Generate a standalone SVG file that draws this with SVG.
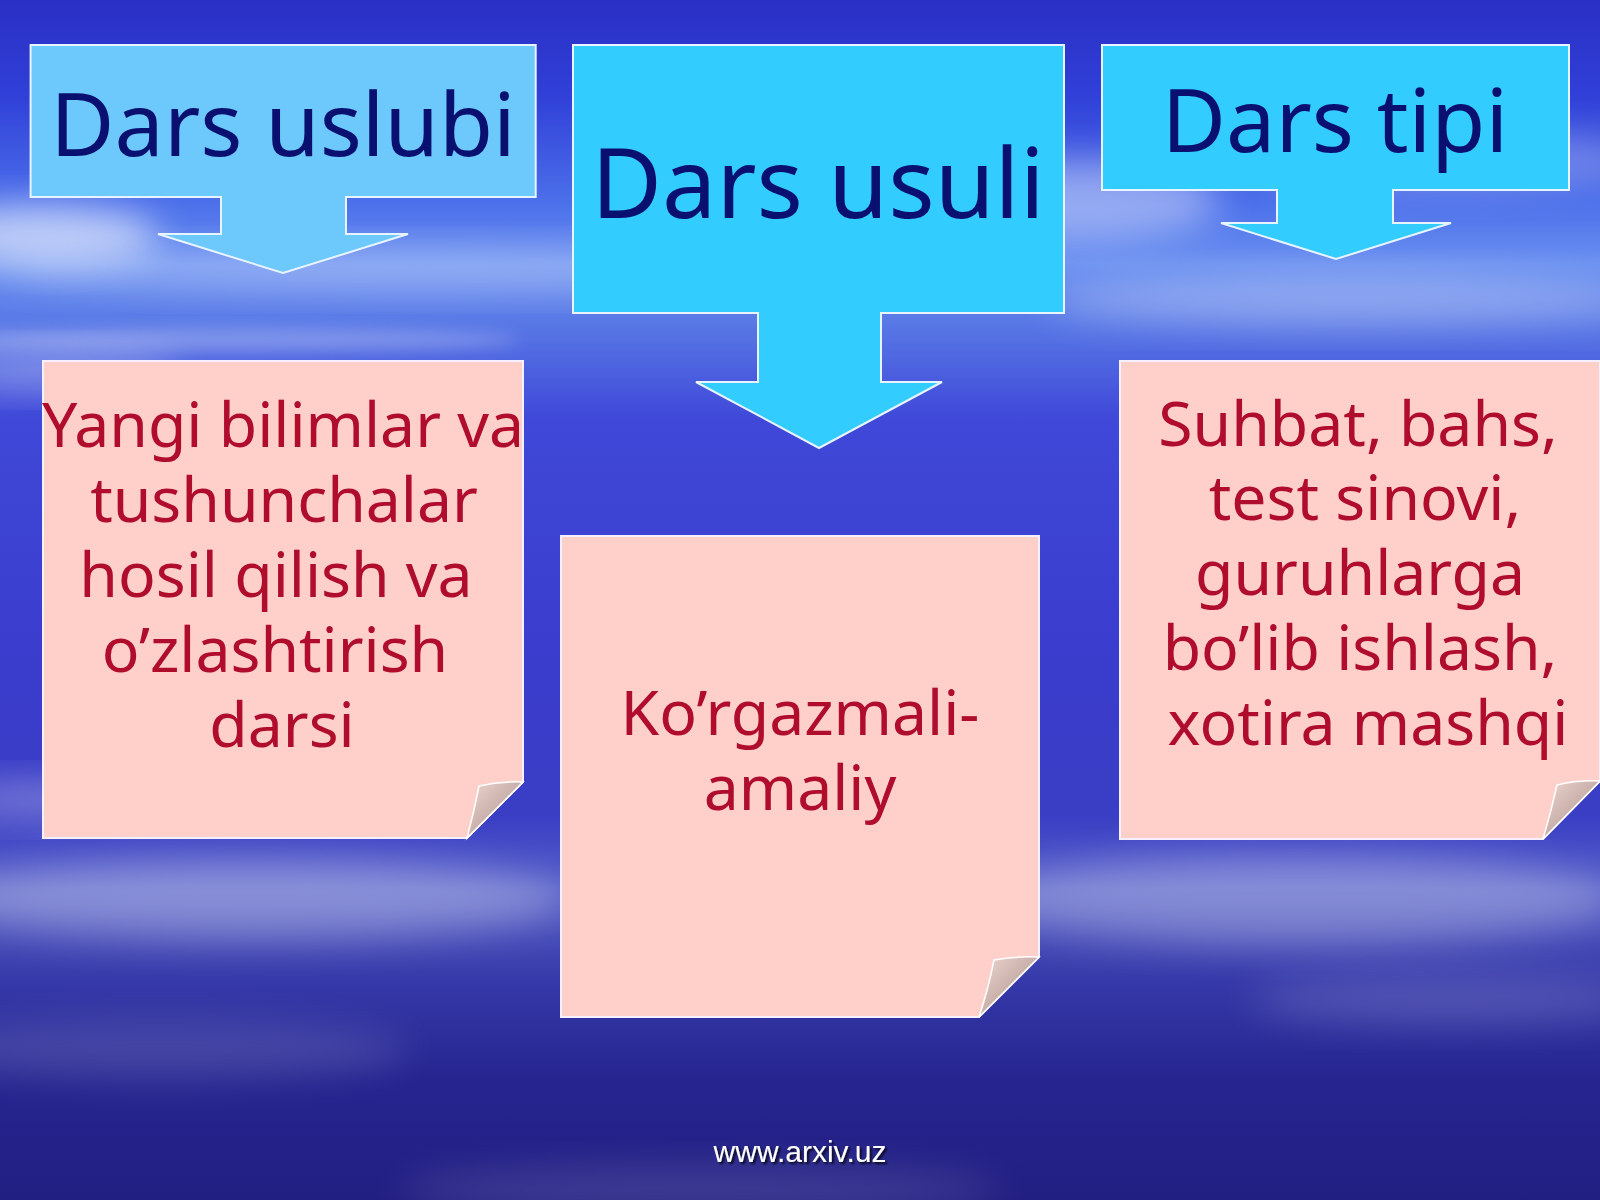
<svg xmlns="http://www.w3.org/2000/svg" width="1600" height="1200" viewBox="0 0 1600 1200">
<defs>
<linearGradient id="bg" x1="0" y1="0" x2="0" y2="1">
<stop offset="0" stop-color="#2a2ec4"/>
<stop offset="0.08" stop-color="#3040d8"/>
<stop offset="0.17" stop-color="#4c70ea"/>
<stop offset="0.22" stop-color="#6a90f0"/>
<stop offset="0.27" stop-color="#5878e6"/>
<stop offset="0.35" stop-color="#3f48d8"/>
<stop offset="0.55" stop-color="#3a3ccc"/>
<stop offset="0.68" stop-color="#3a3ec4"/>
<stop offset="0.74" stop-color="#5660c8"/>
<stop offset="0.82" stop-color="#3538a8"/>
<stop offset="0.9" stop-color="#262590"/>
<stop offset="1" stop-color="#221f82"/>
</linearGradient>
<filter id="blur" x="-20%" y="-50%" width="140%" height="200%"><feGaussianBlur stdDeviation="18"/></filter>
<filter id="blur2" x="-20%" y="-50%" width="140%" height="200%"><feGaussianBlur stdDeviation="8"/></filter>
<linearGradient id="curl" x1="0" y1="0" x2="1" y2="1">
<stop offset="0" stop-color="#f0d8d2"/>
<stop offset="0.5" stop-color="#c9b0ab"/>
<stop offset="1" stop-color="#ddc4bf"/>
</linearGradient>
<filter id="sh" x="-10%" y="-10%" width="120%" height="140%"><feDropShadow dx="2" dy="2" stdDeviation="1" flood-color="#000" flood-opacity="0.8"/></filter>
</defs>
<style>
.cbox{stroke:#e8f4ff;stroke-width:2;stroke-linejoin:miter}
.pink{fill:#ffd0c9;stroke:#f4f0ff;stroke-width:2}
.curl{fill:url(#curl);stroke:#ffffff;stroke-width:1.5}
.head{font-family:"Noto Sans","Open Sans",sans-serif;fill:#0a1070;text-anchor:middle}
.body{font-family:"Noto Sans","Open Sans",sans-serif;fill:#b00c2c;font-size:62.5px;text-anchor:middle}
.foot{font-family:"Liberation Sans",Arial,sans-serif;fill:#ffffff;font-size:30px;text-anchor:middle}
</style>
<rect width="1600" height="1200" fill="url(#bg)"/>
<g id="clouds" fill="#ffffff">
<ellipse cx="40" cy="235" rx="120" ry="30" opacity="0.6" filter="url(#blur)"/>
<ellipse cx="420" cy="270" rx="420" ry="22" opacity="0.28" filter="url(#blur)"/>
<ellipse cx="1080" cy="200" rx="140" ry="40" opacity="0.4" filter="url(#blur)"/>
<ellipse cx="1350" cy="300" rx="300" ry="25" opacity="0.3" filter="url(#blur)"/>
<ellipse cx="220" cy="340" rx="300" ry="12" opacity="0.25" filter="url(#blur2)"/>
<ellipse cx="1450" cy="160" rx="200" ry="30" opacity="0.25" filter="url(#blur)"/>
<ellipse cx="60" cy="370" rx="120" ry="20" opacity="0.3" filter="url(#blur)"/>
<ellipse cx="250" cy="900" rx="320" ry="40" opacity="0.3" filter="url(#blur)"/>
<ellipse cx="80" cy="800" rx="160" ry="20" opacity="0.3" filter="url(#blur)"/>
<ellipse cx="1300" cy="900" rx="320" ry="45" opacity="0.28" filter="url(#blur)"/>
<ellipse cx="1450" cy="1000" rx="200" ry="25" opacity="0.15" filter="url(#blur)"/>
<ellipse cx="160" cy="1050" rx="250" ry="30" opacity="0.12" filter="url(#blur)"/>
<ellipse cx="700" cy="1190" rx="300" ry="25" opacity="0.12" filter="url(#blur)"/>
</g>
<g id="connectors"></g>
<g id="dars-uslubi">
<path class="cbox" fill="#6dc8fb" d="M30.6,45 H535.7 V197 H346 V234 H408 L283,273 L158,234 H221 V197 H30.6 Z"/>
<text class="head" x="283" y="156" font-size="88">Dars uslubi</text>
</g>
<g id="dars-usuli">
<path class="cbox" fill="#33ccff" d="M573,45 H1064 V313 H881 V382 H942 L819,448 L696,382 H758 V313 H573 Z"/>
<text class="head" x="818" y="218" font-size="97">Dars usuli</text>
</g>
<g id="dars-tipi">
<path class="cbox" fill="#33ccff" d="M1102,45 H1569 V190 H1393 V223 H1451 L1336,259 L1221,223 H1277 V190 H1102 Z"/>
<text class="head" x="1335" y="152" font-size="88">Dars tipi</text>
</g>
<g id="note-uslubi">
<path class="pink" d="M43,361 H523 V782 L467,838 H43 Z"/>
<path class="curl" d="M523,782 Q500,781 479,786 Q474,812 467,838 Z"/>
<text class="body"><tspan x="283" y="447">Yangi bilimlar va</tspan><tspan x="284" y="522">tushunchalar</tspan><tspan x="276" y="597">hosil qilish va</tspan><tspan x="275" y="672">o’zlashtirish</tspan><tspan x="282" y="747">darsi</tspan></text>
</g>
<g id="note-usuli">
<path class="pink" d="M561,536 H1039 V957 L979,1017 H561 Z"/>
<path class="curl" d="M1039,957 Q1016,956 994,960 Q988,990 979,1017 Z"/>
<text class="body"><tspan x="800" y="735">Ko’rgazmali-</tspan><tspan x="800" y="810">amaliy</tspan></text>
</g>
<g id="note-tipi">
<path class="pink" d="M1120,361 H1600 V781 L1543,839 H1120 Z"/>
<path class="curl" d="M1600,781 Q1578,780 1557,785 Q1551,812 1543,839 Z"/>
<text class="body"><tspan x="1358" y="446">Suhbat, bahs,</tspan><tspan x="1365" y="520">test sinovi,</tspan><tspan x="1360" y="595">guruhlarga</tspan><tspan x="1360" y="670">bo’lib ishlash,</tspan><tspan x="1368" y="745">xotira mashqi</tspan></text>
</g>
<text class="foot" x="800" y="1162" filter="url(#sh)">www.arxiv.uz</text>
</svg>
